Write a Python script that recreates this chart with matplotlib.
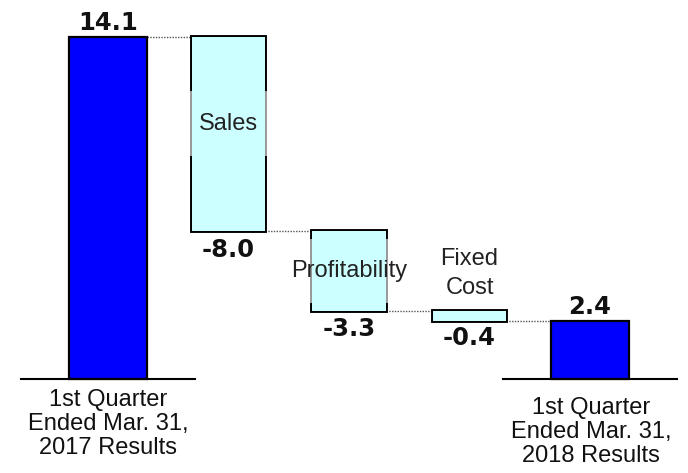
import matplotlib
matplotlib.use("Agg")
import matplotlib.pyplot as plt
import numpy as np

categories = ["1st Quarter\nEnded Mar. 31,\n2017 Results", "Sales", "Profitability",
              "Fixed\nCost", "1st Quarter\nEnded Mar. 31,\n2018 Results"]
changes = [14.1, -8.0, -3.3, -0.4, 2.4]
value_labels = ["14.1", "-8.0", "-3.3", "-0.4", "2.4"]
is_total = [True, False, False, False, True]

BLUE = "#0000FF"
CYAN = "#CCFFFF"
LABEL_FONT = ["Liberation Sans", "DejaVu Sans"]

fig = plt.figure(figsize=(6.88, 4.73), dpi=100)
ax = fig.add_axes([0, 0, 1, 1])
ax.set_xlim(-0.896, 4.813)
ax.set_ylim(-3.875, 15.62)
ax.axis("off")

x = np.arange(len(changes))
bottoms, tops = [], []
running = 0.0
for i, (c, tot) in enumerate(zip(changes, is_total)):
    if tot:
        b, t = 0.0, c
        running = c
    else:
        t = running
        running = running + c
        b = running
    bottoms.append(b)
    tops.append(t)

widths = [0.65 if t else 0.61 for t in is_total]

for i in range(len(changes)):
    h = tops[i] - bottoms[i]
    if is_total[i]:
        ax.bar(x[i], h, bottom=bottoms[i], width=widths[i],
               color=BLUE, edgecolor="black", linewidth=1.6, zorder=3)
    else:
        # outline (below the label frames), fill drawn above the frames
        ax.bar(x[i], h, bottom=bottoms[i], width=widths[i],
               fill=False, edgecolor="black", linewidth=2.8, zorder=3)
        ax.bar(x[i], h, bottom=bottoms[i], width=widths[i],
               color=CYAN, edgecolor="none", zorder=3.6)

# connectors
for i in range(len(changes) - 1):
    level = tops[i] if is_total[i] else bottoms[i]
    ax.plot([x[i] + widths[i] / 2, x[i + 1] - widths[i + 1] / 2], [level, level],
            color="#555555", linestyle=(0, (1, 1)), linewidth=1.0, zorder=2)

# baselines under totals
for i in [0, len(changes) - 1]:
    ax.plot([x[i] - 0.72, x[i] + 0.72], [0, 0], color="black", linewidth=1.5, zorder=4)

# value labels
for i in range(len(changes)):
    if is_total[i]:
        ax.annotate(value_labels[i], (x[i], tops[i]), xytext=(0, 1),
                    textcoords="offset points", ha="center", va="bottom",
                    fontsize=17.5, fontweight="bold", color="#111111")
    else:
        ax.annotate(value_labels[i], (x[i], bottoms[i]), xytext=(0, -4 if i > 1 else -5),
                    textcoords="offset points", ha="center", va="top",
                    fontsize=17.5, fontweight="bold", color="#111111")

# category labels inside bars, with a semi-opaque frame (behind the fill)
# that fades the bar outlines where the label sits
frame = dict(boxstyle="square,pad=0.9", facecolor="white", alpha=0.6, edgecolor="none")
inner = [(1, (0, 7.5)), (2, (0, 0))]
for i, off in inner:
    mid = (tops[i] + bottoms[i]) / 2
    ax.annotate(categories[i], (x[i], mid), xytext=off,
                textcoords="offset points", ha="center", va="center",
                fontsize=17, family=LABEL_FONT, color=(0, 0, 0, 0),
                zorder=3.3, bbox=frame)
    ax.annotate(categories[i], (x[i], mid), xytext=off,
                textcoords="offset points", ha="center", va="center",
                fontsize=17, family=LABEL_FONT, color="#222222", zorder=5)

ax.annotate(categories[3], (x[3], tops[3]), xytext=(0, 27),
            textcoords="offset points", ha="center", va="center",
            fontsize=17, family=LABEL_FONT, color="#222222", zorder=5, linespacing=1.38)

ax.annotate(categories[0], (x[0], 0), xytext=(0, -7),
            textcoords="offset points", ha="center", va="top",
            fontsize=17, family=LABEL_FONT, color="#111111", linespacing=1.12)
ax.annotate(categories[4], (x[4], 0), xytext=(1, -13),
            textcoords="offset points", ha="center", va="top",
            fontsize=17, family=LABEL_FONT, color="#111111", linespacing=1.12)

fig.savefig("out.png", dpi=100)
